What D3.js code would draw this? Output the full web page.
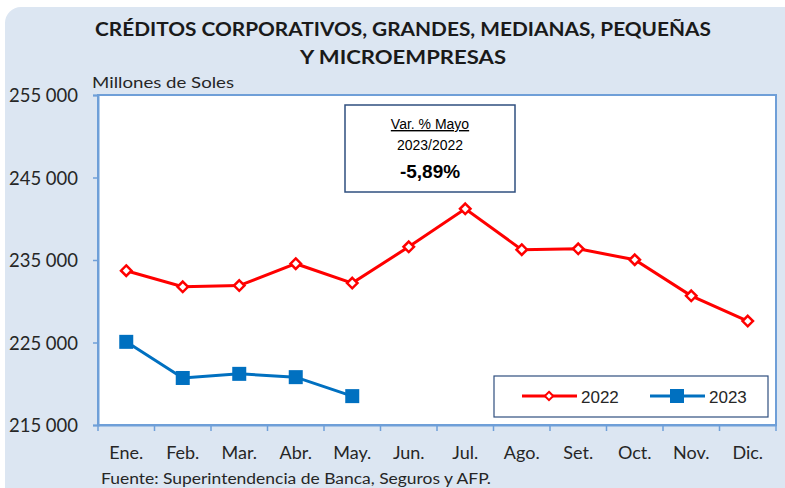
<!DOCTYPE html>
<html>
<head>
<meta charset="utf-8">
<script src="https://cdn.jsdelivr.net/npm/d3@7"></script>
<style>
  body { margin: 0; background: #ffffff; }
  svg { display: block; }
  .tick text { font-family: "Lato", "Open Sans", sans-serif; fill: #262626; }
</style>
</head>
<body>
<svg id="chart" width="785" height="488"></svg>
<script>
// data (millones de soles)
const months = ["Ene.", "Feb.", "Mar.", "Abr.", "May.", "Jun.", "Jul.", "Ago.", "Set.", "Oct.", "Nov.", "Dic."]
const values2022 = [233700, 231750, 231900, 234550, 232200, 236600, 241200, 236250, 236350, 235030, 230660, 227600]
const values2023 = [225080, 220700, 221200, 220800, 218500]
const yTicks = [215000, 225000, 235000, 245000, 255000]
const titleLines = ["CRÉDITOS CORPORATIVOS, GRANDES, MEDIANAS, PEQUEÑAS", "Y MICROEMPRESAS"]

const svg = d3.select("#chart")
const plotL = 98, plotR = 776, plotT = 95, plotB = 425
const txt = "#262626"

// background panel
svg.append("rect")
    .attr("x", 5).attr("y", 7)
    .attr("width", 800).attr("height", 500)
    .attr("rx", 16)
    .attr("fill", "#dce6f2")

// title
svg.selectAll(".title")
    .data(titleLines)
    .join("text")
    .attr("class", "title")
    .attr("x", 403)
    .attr("y", (d, i) => 36 + i * 28)
    .attr("text-anchor", "middle")
    .attr("textLength", (d, i) => i === 0 ? 616 : 206)
    .attr("lengthAdjust", "spacingAndGlyphs")
    .attr("font-family", "Lato, 'Open Sans', sans-serif")
    .attr("font-weight", "bold")
    .attr("font-size", 19)
    .attr("fill", "#1a1a1a")
    .text(d => d)

svg.append("text")
    .attr("x", 92).attr("y", 88)
    .attr("font-family", "Lato, 'Open Sans', sans-serif")
    .attr("font-size", 15.5)
    .attr("textLength", 142)
    .attr("lengthAdjust", "spacingAndGlyphs")
    .attr("fill", txt)
    .text("Millones de Soles")

// plot area
svg.append("rect")
    .attr("x", plotL).attr("y", plotT)
    .attr("width", plotR - plotL).attr("height", plotB - plotT)
    .attr("fill", "#ffffff")
    .attr("stroke", "#6f9fd8")
    .attr("stroke-width", 2)

const x = d3.scaleBand().domain(months).range([plotL, plotR])
const y = d3.scaleLinear().domain([215000, 255000]).range([plotB, plotT])

const fmt = d => d3.format(",")(d).replace(",", " ")

// y axis
const yAxis = svg.append("g")
    .attr("transform", `translate(${plotL},0)`)
    .call(d3.axisLeft(y).tickValues(yTicks).tickSize(5).tickPadding(15).tickFormat(fmt))
yAxis.select(".domain").attr("stroke", "#6f9fd8").attr("stroke-width", 2)
yAxis.selectAll(".tick line").attr("stroke", "#6f9fd8").attr("stroke-width", 1.5)
yAxis.selectAll(".tick text")
    .attr("font-size", 19)
    .attr("textLength", 69)
    .attr("lengthAdjust", "spacingAndGlyphs")
    .attr("dy", "0.35em")

// x axis with ticks between categories
const xAxis = svg.append("g")
    .attr("transform", `translate(0,${plotB})`)
    .call(d3.axisBottom(x).tickSize(0).tickPadding(21))
xAxis.select(".domain").attr("stroke", "#6f9fd8").attr("stroke-width", 2)
xAxis.selectAll(".tick text").attr("font-size", 18)
xAxis.selectAll(".sep")
    .data(d3.range(months.length + 1))
    .join("line")
    .attr("x1", i => plotL + i * x.step())
    .attr("x2", i => plotL + i * x.step())
    .attr("y1", 0).attr("y2", 6)
    .attr("stroke", "#6f9fd8")
    .attr("stroke-width", 1.5)

svg.append("text")
    .attr("x", 101).attr("y", 484)
    .attr("font-family", "Lato, 'Open Sans', sans-serif")
    .attr("font-size", 15.5)
    .attr("textLength", 390)
    .attr("lengthAdjust", "spacingAndGlyphs")
    .attr("fill", txt)
    .text("Fuente: Superintendencia de Banca, Seguros y AFP.")

const cx = d => x(d) + x.bandwidth() / 2
const line = d3.line().x((d, i) => cx(months[i])).y(d => y(d))

// 2022 series
svg.append("path")
    .datum(values2022)
    .attr("d", line)
    .attr("fill", "none")
    .attr("stroke", "#ff0000")
    .attr("stroke-width", 3)
svg.selectAll(".m2022")
    .data(values2022)
    .join("path")
    .attr("class", "m2022")
    .attr("d", d3.symbol(d3.symbolDiamond2, 70))
    .attr("transform", (d, i) => `translate(${cx(months[i])},${y(d)})`)
    .attr("fill", "#ffffff")
    .attr("stroke", "#ff0000")
    .attr("stroke-width", 2.5)

// 2023 series
svg.append("path")
    .datum(values2023)
    .attr("d", line)
    .attr("fill", "none")
    .attr("stroke", "#0070c0")
    .attr("stroke-width", 3)
svg.selectAll(".m2023")
    .data(values2023)
    .join("rect")
    .attr("class", "m2023")
    .attr("x", (d, i) => cx(months[i]) - 7)
    .attr("y", d => y(d) - 7)
    .attr("width", 14).attr("height", 14)
    .attr("fill", "#0070c0")

// variation box
const box = svg.append("g")
box.append("rect")
    .attr("x", 345).attr("y", 105)
    .attr("width", 170).attr("height", 87)
    .attr("fill", "#ffffff")
    .attr("stroke", "#2f4f7f")
    .attr("stroke-width", 1.5)
box.append("text")
    .attr("x", 430).attr("y", 129)
    .attr("text-anchor", "middle")
    .attr("font-family", "'Liberation Sans', Arial, sans-serif")
    .attr("font-size", 14)
    .attr("text-decoration", "underline")
    .attr("fill", "#000")
    .text("Var. % Mayo")
box.append("text")
    .attr("x", 430).attr("y", 150)
    .attr("text-anchor", "middle")
    .attr("font-family", "'Liberation Sans', Arial, sans-serif")
    .attr("font-size", 14)
    .attr("fill", "#000")
    .text("2023/2022")
box.append("text")
    .attr("x", 430).attr("y", 178)
    .attr("text-anchor", "middle")
    .attr("font-family", "'Liberation Sans', Arial, sans-serif")
    .attr("font-weight", "bold")
    .attr("font-size", 19)
    .attr("fill", "#000")
    .text("-5,89%")

// legend
const legend = svg.append("g")
legend.append("rect")
    .attr("x", 494).attr("y", 376)
    .attr("width", 274).attr("height", 41)
    .attr("fill", "#ffffff")
    .attr("stroke", "#2f4f7f")
    .attr("stroke-width", 1.2)
const legendItems = [
    {name: "2022", color: "#ff0000", x0: 522},
    {name: "2023", color: "#0070c0", x0: 650}
]
const li = legend.selectAll(".item")
    .data(legendItems)
    .join("g")
    .attr("transform", d => `translate(${d.x0},396)`)
li.append("line")
    .attr("x1", 0).attr("x2", 55)
    .attr("stroke", d => d.color)
    .attr("stroke-width", 3)
li.filter(d => d.name === "2022").append("path")
    .attr("d", d3.symbol(d3.symbolDiamond2, 45))
    .attr("transform", "translate(27,0)")
    .attr("fill", "#ffffff")
    .attr("stroke", "#ff0000")
    .attr("stroke-width", 2)
li.filter(d => d.name === "2023").append("rect")
    .attr("x", 20).attr("y", -7)
    .attr("width", 14).attr("height", 14)
    .attr("fill", "#0070c0")
li.append("text")
    .attr("x", 59).attr("y", 7)
    .attr("font-family", "'Liberation Sans', Arial, sans-serif")
    .attr("font-size", 17)
    .attr("fill", txt)
    .text(d => d.name)
</script>
</body>
</html>
